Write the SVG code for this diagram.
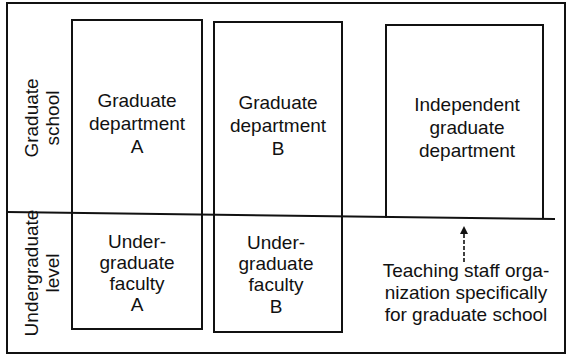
<svg xmlns="http://www.w3.org/2000/svg" width="572" height="362" viewBox="0 0 572 362">
<defs>
<style>
.box{fill:none;stroke:#111;stroke-width:2}
.t{font-family:"Liberation Sans",Arial,sans-serif;font-size:19px;fill:#111;text-anchor:middle}
.c{stroke:#111;stroke-width:1.6;fill:none}
</style>
<marker id="ah" viewBox="0 0 10 10" refX="10" refY="5" markerWidth="8" markerHeight="8" markerUnits="userSpaceOnUse" orient="auto">
<path d="M0,0 L10,5 L0,10 z" fill="#111"/>
</marker>
</defs>
<rect width="572" height="362" fill="#fff"/>
<g id="frame">
<rect class="box" x="7" y="3" width="558" height="350"/>
<line class="box" x1="7" y1="212" x2="555" y2="219"/>
</g>
<g id="label-graduate-school">
<text class="t" transform="translate(38,118) rotate(-90)">Graduate</text>
<text class="t" transform="translate(59,118) rotate(-90)">school</text>
</g>
<g id="label-undergraduate-level">
<text class="t" transform="translate(38,273) rotate(-90)">Undergraduate</text>
<text class="t" transform="translate(59,273) rotate(-90)">level</text>
</g>
<g id="grad-dept-a">
<rect class="box" x="72" y="20" width="130" height="309"/>
<text class="t" x="137" y="107">Graduate</text>
<text class="t" x="137" y="130">department</text>
<text class="t" x="137" y="153">A</text>
</g>
<g id="grad-dept-b">
<rect class="box" x="214" y="22" width="128" height="310"/>
<text class="t" x="278" y="109">Graduate</text>
<text class="t" x="278" y="132">department</text>
<text class="t" x="278" y="155">B</text>
</g>
<g id="undergrad-a">
<text class="t" x="137" y="248">Under-</text>
<text class="t" x="137" y="269">graduate</text>
<text class="t" x="137" y="290">faculty</text>
<text class="t" x="137" y="311">A</text>
</g>
<g id="undergrad-b">
<text class="t" x="276" y="249">Under-</text>
<text class="t" x="276" y="270">graduate</text>
<text class="t" x="276" y="291">faculty</text>
<text class="t" x="276" y="313">B</text>
</g>
<g id="independent">
<path class="box" d="M386,218 V25 H543 V219"/>
<text class="t" x="467" y="111">Independent</text>
<text class="t" x="467" y="134">graduate</text>
<text class="t" x="467" y="157">department</text>
</g>
<g id="teaching-staff">
<text class="t" x="466" y="277">Teaching staff orga-</text>
<text class="t" x="466" y="299">nization specifically</text>
<text class="t" x="466" y="321">for graduate school</text>
</g>
<g id="connectors">
<line class="c" x1="464" y1="262" x2="464" y2="226" stroke-dasharray="4,2" marker-end="url(#ah)"/>
</g>
</svg>
